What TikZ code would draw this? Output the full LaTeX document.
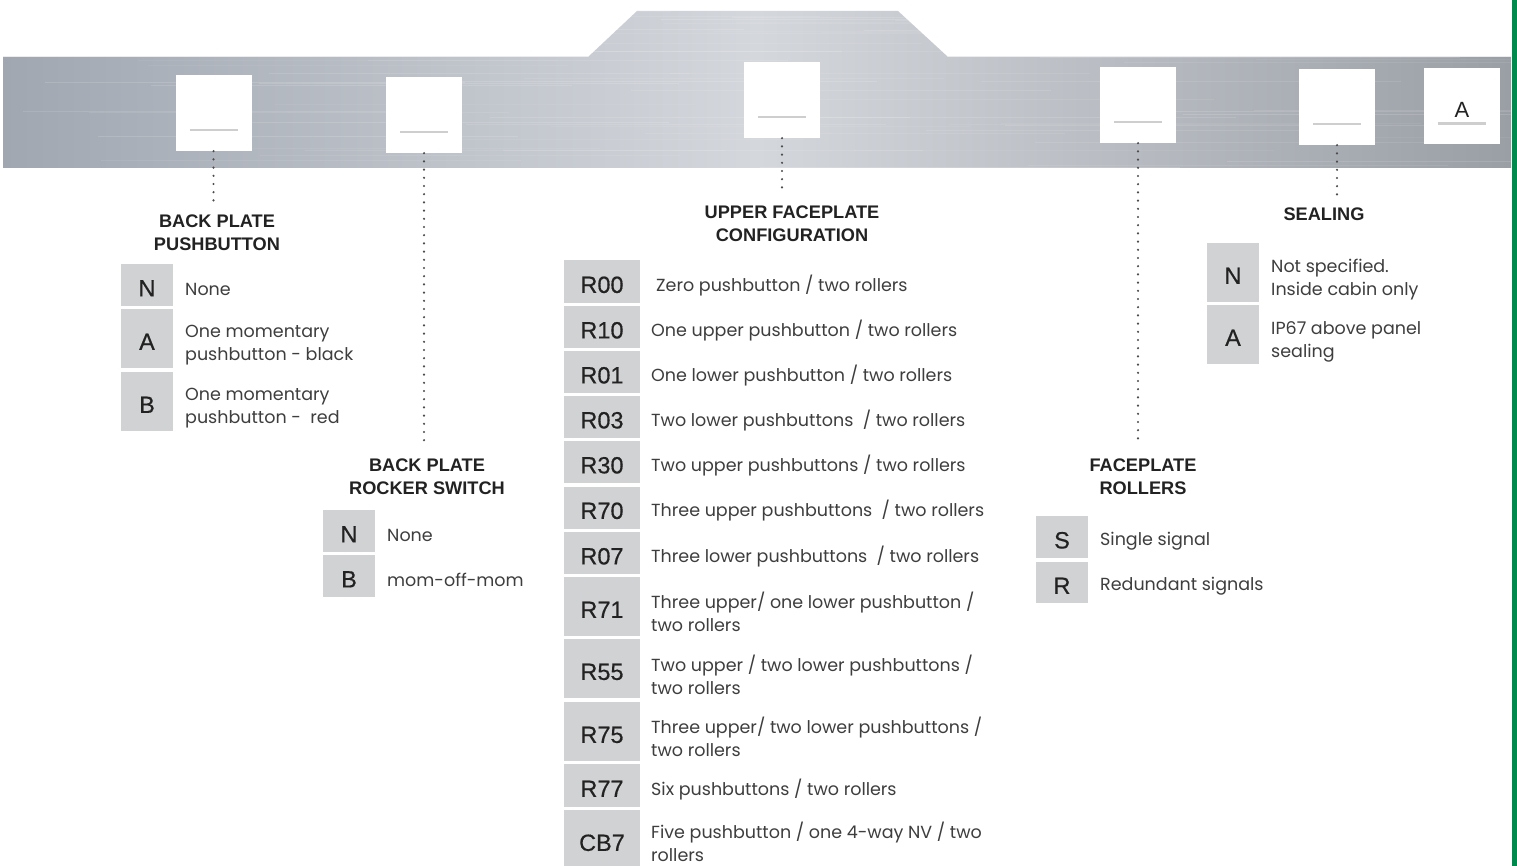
\documentclass[tikz,border=0pt]{standalone}
\usepackage{fontspec}
\setmainfont{Liberation Sans}
\newfontfamily\bodyfont{Poppins}
\newfontfamily\codefont[FakeBold=0.5]{Liberation Sans}
\usetikzlibrary{calc}
\definecolor{cellgray}{RGB}{209,210,212}
\definecolor{txt}{RGB}{62,62,62}
\definecolor{hdr}{RGB}{34,34,34}
\definecolor{brandgreen}{RGB}{0,138,78}
\definecolor{bandL}{RGB}{160,167,177}
\definecolor{bandM}{RGB}{212,215,220}
\definecolor{bandR}{RGB}{154,159,166}
\definecolor{uline}{RGB}{206,206,206}
\tikzset{
  code/.style={fill=cellgray, minimum width=52pt, inner sep=0pt, text=hdr, text height=22.8pt, text depth=0pt, font=\codefont\fontsize{23.5}{26}\selectfont},
  wcode/.style={code, minimum width=76pt},
  desc/.style={anchor=west, align=left, text=txt, inner sep=0pt, font=\bodyfont\fontsize{17.5}{23}\selectfont},
  hdrtxt/.style={align=center, text=hdr, inner sep=0pt, font=\bfseries\fontsize{18.2}{23}\selectfont},
  slot/.style={fill=white, minimum width=76pt, minimum height=76pt, inner sep=0pt},
  uln/.style={draw=uline, line width=2.6pt},
  dotline/.style={draw=black!70, line width=2.4pt, dash pattern=on 0pt off 8.2pt, line cap=round},
}
\begin{document}
\begin{tikzpicture}[x=1pt,y=-1pt]
\useasboundingbox (0,0) rectangle (1517,866);
\fill[white] (0,0) rectangle (1517,866);
% metal band
\shade[left color=bandL, right color=bandR, middle color=bandM]
  (3,57) -- (588,57) -- (637,11) -- (898,11) -- (948,57) -- (1511,57) -- (1511,168) -- (3,168) -- cycle;
\begin{scope}
\clip (3,57) -- (588,57) -- (637,11) -- (898,11) -- (948,57) -- (1511,57) -- (1511,168) -- (3,168) -- cycle;
\pgfmathsetseed{7}
\foreach \i in {1,...,70}{
  \pgfmathsetmacro{\yy}{11+157*rnd}
  \pgfmathsetmacro{\xa}{3+1300*rnd}
  \pgfmathsetmacro{\op}{0.05+0.10*rnd}
  \draw[white, opacity=\op, line width=0.8pt] (\xa,\yy) -- ++(420,0);
}
\end{scope}
\draw[white!85!gray, line width=1pt] (3,57) -- (588,57);
\draw[white!85!gray, line width=1pt] (948,57) -- (1511,57);
\fill[brandgreen] (1512,0) rectangle (1517,866);

% slots
\node[slot] (s1) at (213.5,113) {};
\node[slot] (s2) at (424,115) {};
\node[slot] (s3) at (782,100) {};
\node[slot] (s4) at (1138,105) {};
\node[slot] (s5) at (1337,107) {};
\node[slot] (s6) at (1461.5,106.5) {};
\foreach \s in {s1,s2,s3,s4,s5,s6}{
  \draw[uln] ([xshift=-24pt,yshift=21pt]\s.south) -- ([xshift=24pt,yshift=21pt]\s.south);
}
\node[text=hdr, inner sep=0pt, font=\fontsize{22}{24}\selectfont] (s6a) at (1462,110) {A};

% headers
\node[hdrtxt] (h1) at (217,232.5) {BACK PLATE\\PUSHBUTTON};
\node[hdrtxt] (h2) at (427,477) {BACK PLATE\\ROCKER SWITCH};
\node[hdrtxt] (h3) at (792,223.5) {UPPER FACEPLATE\\CONFIGURATION};
\node[hdrtxt] (h4) at (1143,477) {FACEPLATE\\ROLLERS};
\node[hdrtxt] (h5) at (1324,214) {SEALING};

% connectors
\draw[dotline] (s1.south) -- ($(s1.south |- h1.north)+(0,-6)$);
\draw[dotline] (s2.south) -- ($(s2.south |- h2.north)+(0,-16)$);
\draw[dotline] (s3.south) -- ($(s3.south |- h3.north)+(0,-14)$);
\draw[dotline] (s4.south) -- ($(s4.south |- h4.north)+(0,-16)$);
\draw[dotline] (s5.south) -- ($(s5.south |- h5.north)+(0,-10)$);

% table 1: back plate pushbutton
\node[code, minimum height=42pt] (p1) at (147,285) {N};
\node[code, minimum height=59pt] (p2) at (147,338.5) {A};
\node[code, minimum height=59pt] (p3) at (147,401.5) {B};
\node[desc] (p1d) at (185,289) {None};
\node[desc] (p2d) at (185,345) {One momentary\\pushbutton - black};
\node[desc] (p3d) at (185,408) {One momentary\\pushbutton - \ red};

% table 2: rocker switch
\node[code, minimum height=42pt] (r1) at (349,531) {N};
\node[code, minimum height=42pt] (r2) at (349,576) {B};
\node[desc] (r1d) at (387,535) {None};
\node[desc] (r2d) at (387,580) {mom-off-mom};

% table 3: upper faceplate configuration
\node[wcode, minimum height=43pt] (c1) at (602,281.5) {R00};
\node[wcode, minimum height=42pt] (c2) at (602,327) {R10};
\node[wcode, minimum height=42pt] (c3) at (602,372) {R01};
\node[wcode, minimum height=42pt] (c4) at (602,417) {R03};
\node[wcode, minimum height=42pt] (c5) at (602,462) {R30};
\node[wcode, minimum height=42pt] (c6) at (602,507.5) {R70};
\node[wcode, minimum height=42pt] (c7) at (602,553) {R07};
\node[wcode, minimum height=59pt] (c8) at (602,606.5) {R71};
\node[wcode, minimum height=59pt] (c9) at (602,668.5) {R55};
\node[wcode, minimum height=59pt] (c10) at (602,731.5) {R75};
\node[wcode, minimum height=43pt] (c11) at (602,785.5) {R77};
\node[wcode, minimum height=59pt] (c12) at (602,839.5) {CB7};
\node[desc] (c1d) at (656,286) {Zero pushbutton / two rollers};
\node[desc] (c2d) at (651,331) {One upper pushbutton / two rollers};
\node[desc] (c3d) at (651,376) {One lower pushbutton / two rollers};
\node[desc] (c4d) at (651,421) {Two lower pushbuttons \ / two rollers};
\node[desc] (c5d) at (651,466) {Two upper pushbuttons / two rollers};
\node[desc] (c6d) at (651,511) {Three upper pushbuttons \ / two rollers};
\node[desc] (c7d) at (651,557) {Three lower pushbuttons \ / two rollers};
\node[desc] (c8d) at (651,612) {Three upper/ one lower pushbutton /\\two rollers};
\node[desc] (c9d) at (651,675) {Two upper / two lower pushbuttons /\\two rollers};
\node[desc] (c10d) at (651,737) {Three upper/ two lower pushbuttons /\\two rollers};
\node[desc] (c11d) at (651,790) {Six pushbuttons / two rollers};
\node[desc] (c12d) at (651,842) {Five pushbutton / one 4-way NV / two\\rollers};

% table 4: faceplate rollers
\node[code, minimum height=42pt] (f1) at (1062,537) {S};
\node[code, minimum height=41pt] (f2) at (1062,582.5) {R};
\node[desc] (f1d) at (1100,541) {Single signal};
\node[desc] (f2d) at (1100,586) {Redundant signals};

% table 5: sealing
\node[code, minimum height=59pt] (e1) at (1233,272.5) {N};
\node[code, minimum height=59pt] (e2) at (1233,334.5) {A};
\node[desc] (e1d) at (1271,280) {Not specified.\\Inside cabin only};
\node[desc] (e2d) at (1271,342) {IP67 above panel\\sealing};
\end{tikzpicture}
\end{document}
